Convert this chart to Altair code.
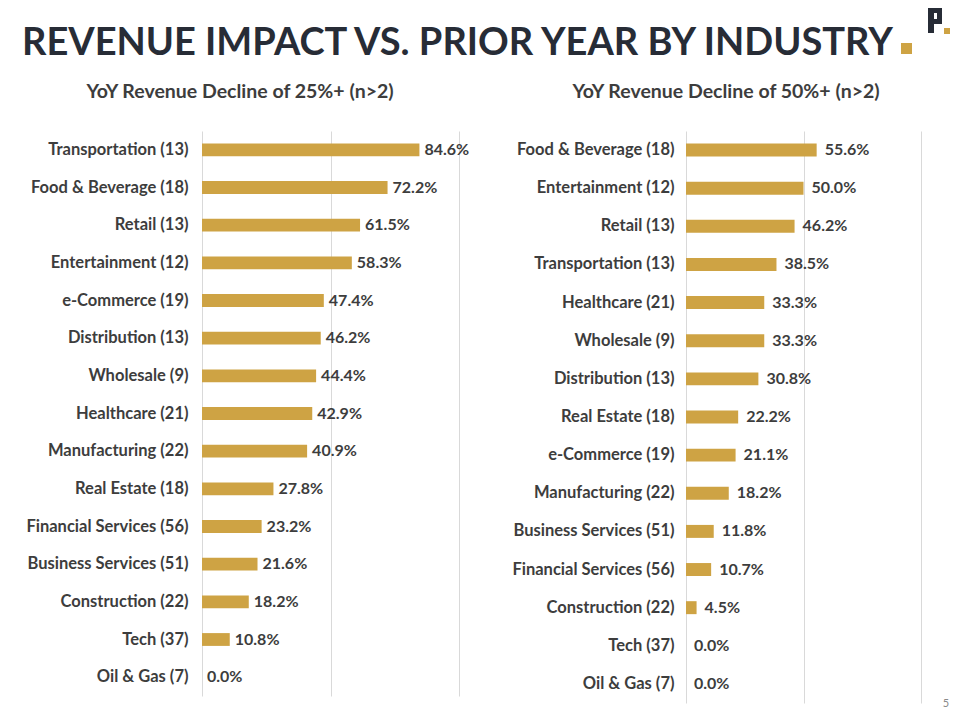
import altair as alt
import pandas as pd

TITLE = "REVENUE IMPACT VS. PRIOR YEAR BY INDUSTRY"
SUB_LEFT = "YoY Revenue Decline of 25%+ (n>2)"
SUB_RIGHT = "YoY Revenue Decline of 50%+ (n>2)"
PAGE_NO = "5"

left_industries = ["Transportation (13)", "Food & Beverage (18)", "Retail (13)", "Entertainment (12)",
                   "e-Commerce (19)", "Distribution (13)", "Wholesale (9)", "Healthcare (21)",
                   "Manufacturing (22)", "Real Estate (18)", "Financial Services (56)",
                   "Business Services (51)", "Construction (22)", "Tech (37)", "Oil & Gas (7)"]
left_values = [84.6, 72.2, 61.5, 58.3, 47.4, 46.2, 44.4, 42.9, 40.9, 27.8, 23.2, 21.6, 18.2, 10.8, 0.0]

right_industries = ["Food & Beverage (18)", "Entertainment (12)", "Retail (13)", "Transportation (13)",
                    "Healthcare (21)", "Wholesale (9)", "Distribution (13)", "Real Estate (18)",
                    "e-Commerce (19)", "Manufacturing (22)", "Business Services (51)",
                    "Financial Services (56)", "Construction (22)", "Tech (37)", "Oil & Gas (7)"]
right_values = [55.6, 50.0, 46.2, 38.5, 33.3, 33.3, 30.8, 22.2, 21.1, 18.2, 11.8, 10.7, 4.5, 0.0, 0.0]

x_ticks = [0, 50, 100]

FONT = "Lato"
GOLD = "#CEA344"
DARK = "#272C36"
TEXT = "#3d3d3d"
GRID = "#d9d9d9"

# plot-area origins on the page (used to place header decorations)
LX, LY = 202, 131
RX, RY = 686, 131


def panel(cats, vals, width, height, label_pad, dx, extra=()):
    df = pd.DataFrame({"industry": cats, "value": vals})
    base = alt.Chart(df).transform_calculate(
        label="format(datum.value, '.1f') + '%'"
    ).encode(
        y=alt.Y("industry:N", sort=cats,
                scale=alt.Scale(paddingInner=0.66, paddingOuter=0.33),
                axis=alt.Axis(title=None, domain=False, ticks=False, labelPadding=label_pad,
                              labelFont=FONT, labelFontSize=16.5, labelFontWeight="bold",
                              labelColor=TEXT, labelLimit=400)),
        x=alt.X("value:Q", scale=alt.Scale(domain=[0, 100], nice=False),
                axis=alt.Axis(title=None, values=x_ticks, labels=False, ticks=False,
                              domain=False, grid=True, gridColor=GRID, gridWidth=1)),
    )
    bars = base.mark_bar(color=GOLD)
    text = base.mark_text(align="left", baseline="middle", dx=dx, font=FONT, fontSize=16,
                          fontWeight="bold", color=TEXT).encode(text="label:N")
    return alt.layer(bars, text, *extra).properties(
        width=width, height=height, view=alt.ViewConfig(stroke="transparent", strokeWidth=0))


hdr = pd.DataFrame({"t": [TITLE], "sl": [SUB_LEFT], "sr": [SUB_RIGHT], "p": [PAGE_NO]})
hbase = alt.Chart(hdr)


def rect(x1, y1, x2, y2, color):
    return hbase.mark_rect(color=color).encode(
        x=alt.value(x1 - LX), x2=alt.value(x2 - LX), y=alt.value(y1 - LY), y2=alt.value(y2 - LY))


anchor = rect(8, 8, 9, 9, "white")
title = hbase.mark_text(align="left", baseline="alphabetic", font=FONT, fontSize=38,
                        fontWeight="bold", color=DARK).encode(
    x=alt.value(22 - LX), y=alt.value(55 - LY), text="t:N")
title_sq = rect(901, 43, 912, 54, GOLD)
sub_l = hbase.mark_text(align="center", baseline="middle", font=FONT, fontSize=19.5,
                        fontWeight="bold", color=TEXT).encode(
    x=alt.value(240 - LX), y=alt.value(92 - LY), text="sl:N")
sub_r = hbase.mark_text(align="center", baseline="middle", font=FONT, fontSize=19.5,
                        fontWeight="bold", color=TEXT).encode(
    x=alt.value(726 - LX), y=alt.value(92 - LY), text="sr:N")
logo = [
    rect(928, 8, 934, 33, DARK),
    rect(928, 8, 942, 13, DARK),
    rect(937, 8, 942, 24, DARK),
    rect(928, 19, 942, 24, DARK),
    rect(944, 28, 950, 34, GOLD),
]

page_no = hbase.mark_text(align="center", baseline="middle", font=FONT, fontSize=11,
                          color="#8a8a8a").encode(
    x=alt.value(946 - RX), y=alt.value(704 - RY), text="p:N")

left = panel(left_industries, left_values, 257, 565, 14, 5,
             extra=[anchor, title, title_sq, sub_l, sub_r, *logo])
right = panel(right_industries, right_values, 235, 572, 12, 8, extra=[page_no])

chart = alt.hconcat(left, right, spacing=RX - (LX + 257), bounds="flush").properties(
    padding=0
).configure_view(stroke="transparent", strokeWidth=0).configure(background="white")

chart.save("out.html", embed_options={"renderer": "svg", "actions": False})
